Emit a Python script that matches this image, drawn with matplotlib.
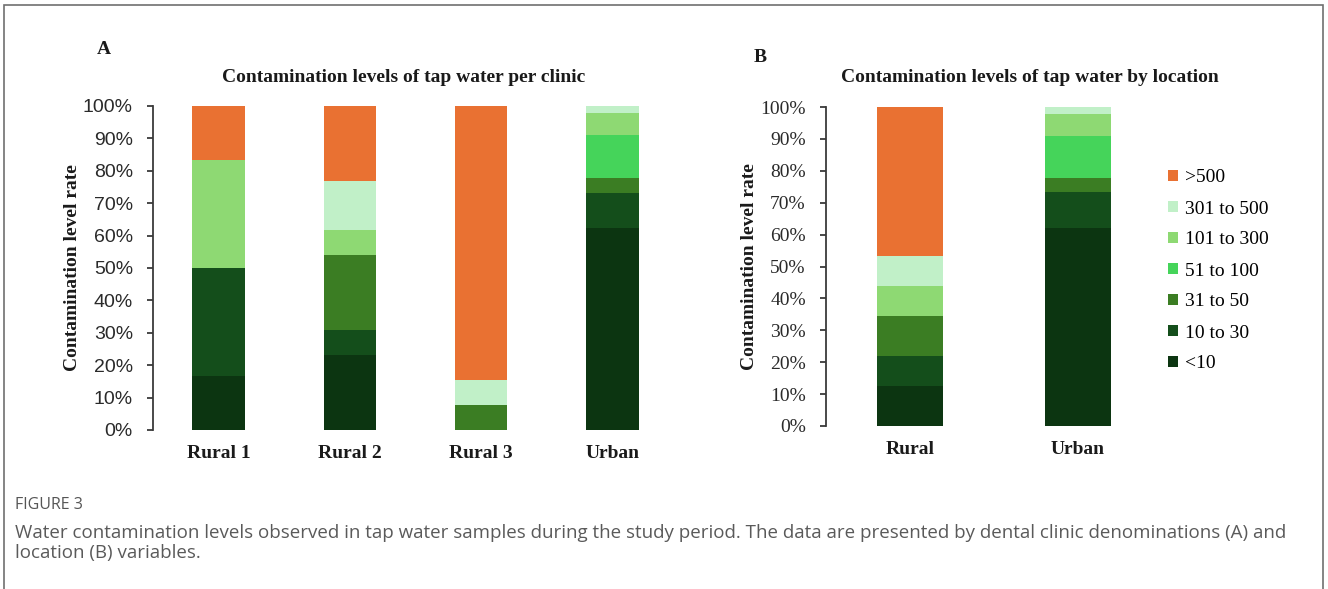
import matplotlib
matplotlib.use('Agg')
import matplotlib.pyplot as plt
from matplotlib.patches import Patch, Rectangle
from matplotlib.ticker import PercentFormatter
import numpy as np

# contamination level classes (bottom to top of each stacked bar)
levels = ['<10', '10 to 30', '31 to 50', '51 to 100', '101 to 300', '301 to 500', '>500']
level_colors = ['#0C3511', '#144E1B', '#3B7D23', '#45D45A', '#8ED973', '#C1F0C8', '#E97132']

# panel A: per clinic (%)
clinics = ['Rural 1', 'Rural 2', 'Rural 3', 'Urban']
clinic_lt10     = [16.7, 23.1, 0.0, 62.2]
clinic_10_30    = [33.3,  7.7, 0.0, 11.1]
clinic_31_50    = [ 0.0, 23.1, 7.7,  4.4]
clinic_51_100   = [ 0.0,  0.0, 0.0, 13.3]
clinic_101_300  = [33.3,  7.7, 0.0,  6.7]
clinic_301_500  = [ 0.0, 15.4, 7.7,  2.3]
clinic_gt500    = [16.7, 23.0, 84.6, 0.0]

# panel B: per location (%)
locations = ['Rural', 'Urban']
loc_lt10    = [12.5, 62.2]
loc_10_30   = [ 9.4, 11.1]
loc_31_50   = [12.5,  4.4]
loc_51_100  = [ 0.0, 13.3]
loc_101_300 = [ 9.4,  6.7]
loc_301_500 = [ 9.4,  2.3]
loc_gt500   = [46.8,  0.0]

clinic_series = [clinic_lt10, clinic_10_30, clinic_31_50, clinic_51_100,
                 clinic_101_300, clinic_301_500, clinic_gt500]
loc_series = [loc_lt10, loc_10_30, loc_31_50, loc_51_100,
              loc_101_300, loc_301_500, loc_gt500]

serif = ['Liberation Serif', 'DejaVu Serif']
sans = ['Liberation Sans', 'DejaVu Sans']
FS = 14

W, H = 1328, 589
fig = plt.figure(figsize=(W/100, H/100), dpi=100)

# thin frame around the figure (open at the bottom)
fig.patches.append(Rectangle((4/W, -0.05), 1319/W, 1.05 - 5/H, transform=fig.transFigure,
                             fill=False, edgecolor='#707070', linewidth=1.2))

def stacked(ax, cats, series, width, tickfont, tickfs):
    x = np.arange(len(cats))
    bottom = np.zeros(len(cats))
    for vals, col, lab in zip(series, level_colors, levels):
        ax.bar(x, vals, width, bottom=bottom, color=col, linewidth=0, label=lab)
        bottom += np.array(vals)
    ax.set_xlim(-0.5, len(cats) - 0.5)
    ax.set_ylim(0, 100)
    ax.set_yticks(np.arange(0, 101, 10))
    ax.yaxis.set_major_formatter(PercentFormatter(decimals=0))
    ax.set_xticks(x)
    ax.set_xticklabels(cats, family=serif, fontweight='bold', fontsize=FS, color='#1a1a1a')
    for s in ['top', 'right', 'bottom']:
        ax.spines[s].set_visible(False)
    ax.spines['left'].set_color('#3a3a3a')
    ax.spines['left'].set_linewidth(1.3)
    ax.tick_params(axis='x', length=0, pad=11)
    ax.tick_params(axis='y', direction='out', length=4.5, width=1.3, color='#3a3a3a', pad=10)
    for t in ax.get_yticklabels():
        t.set_family(tickfont)
        t.set_fontsize(tickfs)
        t.set_color('#2a2a2a')
    ax.set_ylabel('Contamination level rate', family=serif, fontweight='bold',
                  fontsize=FS, color='#1a1a1a', labelpad=1.5)

# panel A
axA = fig.add_axes([153/W, 1 - 430/H, 525/W, 324/H])
stacked(axA, clinics, clinic_series, 0.4, sans, 14)
fig.text(404/W, 1 - 78/H, 'Contamination levels of tap water per clinic', family=serif,
         fontweight='bold', fontsize=FS, ha='center', va='center', color='#1a1a1a')
fig.text(97/W, 1 - 50/H, 'A', family=serif, fontweight='bold', fontsize=FS,
         ha='left', va='center', color='#1a1a1a')

# panel B
axB = fig.add_axes([826/W, 1 - 426/H, 336/W, 319/H])
stacked(axB, locations, loc_series, 0.39, serif, 14)
fig.text(1030/W, 1 - 78/H, 'Contamination levels of tap water by location', family=serif,
         fontweight='bold', fontsize=FS, ha='center', va='center', color='#1a1a1a')
fig.text(754/W, 1 - 57/H, 'B', family=serif, fontweight='bold', fontsize=FS,
         ha='left', va='center', color='#1a1a1a')

handles = [Patch(facecolor=c, edgecolor='none', label=l)
           for c, l in zip(level_colors[::-1], levels[::-1])]
fig.legend(handles=handles, loc='upper left', bbox_to_anchor=(1150/W, 1 - 152/H),
           frameon=False, prop={'family': serif, 'size': FS},
           handlelength=0.55, handleheight=0.55, handletextpad=0.35, labelspacing=0.72)

# caption
fig.text(15/W, 1 - 505/H, 'FIGURE 3', family=['Open Sans', 'DejaVu Sans'], fontsize=11.5,
         color='#555555', ha='left', va='center')
fig.text(15/W, 1 - 533/H,
         'Water contamination levels observed in tap water samples during the study period. '
         'The data are presented by dental clinic denominations (A) and',
         family=['Open Sans', 'DejaVu Sans'], fontsize=13.5, color='#5a5a5a', ha='left', va='center')
fig.text(15/W, 1 - 553/H, 'location (B) variables.',
         family=['Open Sans', 'DejaVu Sans'], fontsize=13.5, color='#5a5a5a', ha='left', va='center')

fig.savefig('out.png', dpi=100)
